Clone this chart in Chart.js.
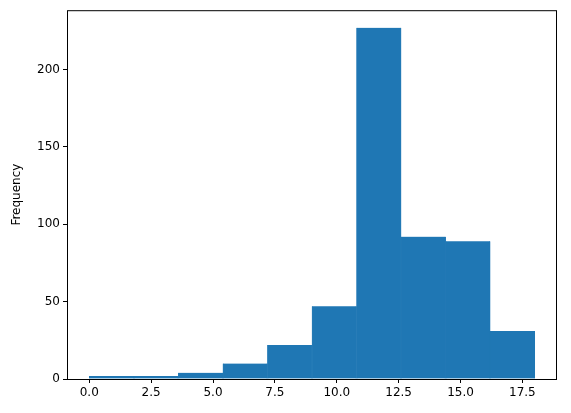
<!DOCTYPE html>
<html><head><script src="https://cdn.jsdelivr.net/npm/chart.js"></script>
<style>body{margin:0;background:#fff}#w{width:571px;height:413px}</style></head>
<body><div id="w"><canvas id="c"></canvas></div>
<script>
const binEdges=[0,1.8,3.6,5.4,7.2,9.0,10.8,12.6,14.4,16.2,18.0];
const counts=[2,2,4,10,22,47,227,92,89,31];
const xTicks=[0,2.5,5,7.5,10,12.5,15,17.5];
const yTicks=[0,50,100,150,200];
const data=counts.map((v,i)=>({x:(binEdges[i]+binEdges[i+1])/2,y:v}));
const frame={id:'frame',afterDraw(c){const a=c.chartArea,g=c.ctx;g.save();g.strokeStyle='#000';g.lineWidth=1;g.strokeRect(a.left+.5,a.top+.5,a.right-a.left-1,a.bottom-a.top);g.restore();}};
new Chart(document.getElementById('c'),{type:'bar',data:{datasets:[{data,backgroundColor:'#1f77b4',borderColor:'#1f77b4',borderWidth:{left:0.5,right:0.5,top:0,bottom:0},barPercentage:1,categoryPercentage:1}]},
options:{responsive:true,maintainAspectRatio:false,animation:false,layout:{padding:{top:10,right:14,left:6,bottom:0}},
plugins:{legend:{display:false},tooltip:{enabled:false}},
scales:{x:{type:'linear',offset:false,min:-0.9,max:18.9,afterBuildTicks(s){s.ticks=xTicks.map(v=>({value:v}));},afterFit(s){s.height=34;},
grid:{offset:false,drawOnChartArea:false,tickLength:4,color:'#000'},border:{display:false},ticks:{color:'#000',font:{family:'DejaVu Sans',size:12},padding:3,maxRotation:0,callback:v=>v.toFixed(1)}},
y:{min:0,max:238.35,afterBuildTicks(s){s.ticks=yTicks.map(v=>({value:v}));},afterFit(s){s.width=61;},
grid:{drawOnChartArea:false,tickLength:4,color:'#000'},border:{display:false},ticks:{color:'#000',font:{family:'DejaVu Sans',size:12},padding:3},
title:{display:true,text:'Frequency',color:'#000',font:{family:'DejaVu Sans',size:12},padding:{bottom:2}}}}},
plugins:[frame]});
</script></body></html>
